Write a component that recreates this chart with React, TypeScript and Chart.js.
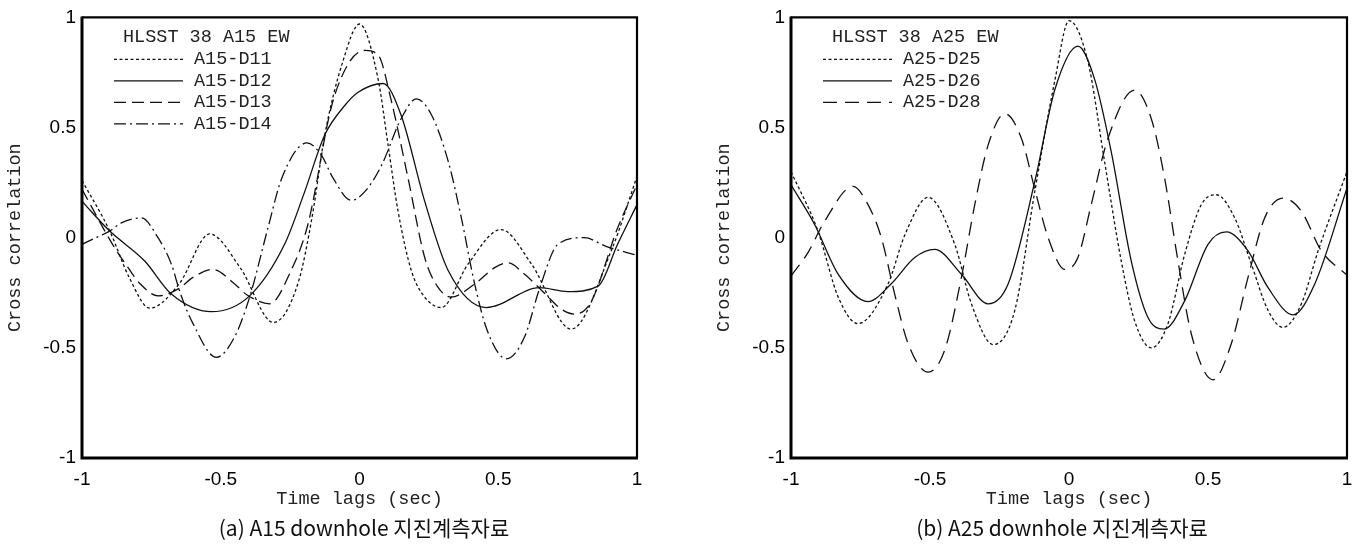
import React, { useEffect, useRef } from "react";
import { Chart, registerables } from "chart.js";

Chart.register(...registerables);

// ---------- data ----------
const xTickValues = [-1, -0.5, 0, 0.5, 1];
const xTickLabels = ["-1", "-0.5", "0", "0.5", "1"];
const yTickValues = [-1, -0.5, 0, 0.5, 1];
const yTickLabels = ["-1", "-0.5", "0", "0.5", "1"];

const titleA = "HLSST 38 A15 EW";
const titleB = "HLSST 38 A25 EW";
const xAxisTitle = "Time lags (sec)";
const yAxisTitle = "Cross correlation";
const captionA = "(a) A15 downhole 지진계측자료";
const captionB = "(b) A25 downhole 지진계측자료";

// A15 panel
const d11T = [-1, -0.9, -0.83, -0.756, -0.65, -0.54, -0.43, -0.31, -0.22, -0.17, -0.125, -0.06, 0, 0.067, 0.103, 0.139, 0.187, 0.235, 0.295, 0.391, 0.51, 0.62, 0.763, 0.907, 1];
const d11V = [0.26, 0.03, -0.18, -0.32, -0.21, 0.017, -0.136, -0.385, -0.2, 0.1, 0.467, 0.8, 0.97, 0.72, 0.42, 0.12, -0.15, -0.27, -0.317, -0.12, 0.037, -0.12, -0.415, -0.06, 0.278];

const d12T = [-1, -0.9, -0.774, -0.678, -0.534, -0.396, -0.27, -0.2, -0.125, -0.053, -0.005, 0.085, 0.15, 0.235, 0.32, 0.457, 0.649, 0.75, 0.86, 0.93, 1];
const d12V = [0.165, 0.03, -0.106, -0.256, -0.336, -0.264, -0.03, 0.2, 0.467, 0.6, 0.66, 0.7, 0.556, 0.165, -0.15, -0.317, -0.227, -0.245, -0.22, -0.03, 0.15];

const d13T = [-1, -0.89, -0.834, -0.79, -0.726, -0.65, -0.6, -0.528, -0.45, -0.405, -0.324, -0.247, -0.186, -0.1, -0.035, 0.02, 0.067, 0.113, 0.175, 0.235, 0.28, 0.33, 0.415, 0.487, 0.535, 0.595, 0.665, 0.727, 0.775, 0.835, 0.93, 1];
const d13V = [0.22, -0.03, -0.136, -0.21, -0.264, -0.23, -0.18, -0.144, -0.21, -0.26, -0.3, -0.15, 0.06, 0.6, 0.8, 0.85, 0.83, 0.63, 0.27, -0.09, -0.22, -0.27, -0.21, -0.136, -0.114, -0.166, -0.25, -0.324, -0.347, -0.29, 0.044, 0.24];

const d14T = [-1, -0.95, -0.9, -0.858, -0.786, -0.726, -0.678, -0.645, -0.6, -0.516, -0.45, -0.396, -0.33, -0.28, -0.19, -0.138, -0.095, -0.03, 0.02, 0.08, 0.15, 0.205, 0.26, 0.32, 0.367, 0.415, 0.46, 0.529, 0.595, 0.649, 0.715, 0.81, 0.89, 1];
const d14V = [-0.03, 0.0, 0.03, 0.067, 0.09, 0.0, -0.12, -0.255, -0.39, -0.543, -0.45, -0.27, 0.044, 0.27, 0.43, 0.376, 0.27, 0.17, 0.21, 0.33, 0.54, 0.63, 0.556, 0.345, 0.09, -0.21, -0.42, -0.55, -0.45, -0.23, -0.03, 0.0, -0.04, -0.08];

// A25 panel
const d25T = [-1, -0.903, -0.83, -0.759, -0.651, -0.59, -0.507, -0.411, -0.351, -0.273, -0.195, -0.123, -0.05, 0, 0.068, 0.128, 0.188, 0.236, 0.296, 0.356, 0.416, 0.476, 0.53, 0.596, 0.656, 0.716, 0.77, 0.836, 0.896, 1];
const d25V = [0.3, 0.03, -0.27, -0.39, -0.21, 0.014, 0.183, -0.03, -0.3, -0.485, -0.33, 0.21, 0.72, 0.985, 0.8, 0.345, -0.106, -0.377, -0.5, -0.39, -0.076, 0.15, 0.195, 0.09, -0.12, -0.33, -0.407, -0.3, -0.06, 0.3];

const d26T = [-1, -0.915, -0.83, -0.723, -0.64, -0.555, -0.483, -0.387, -0.291, -0.219, -0.123, -0.05, 0.032, 0.092, 0.152, 0.224, 0.284, 0.342, 0.416, 0.5, 0.566, 0.644, 0.716, 0.806, 0.884, 1];
const d26V = [0.24, 0.06, -0.166, -0.29, -0.21, -0.09, -0.053, -0.166, -0.3, -0.21, 0.255, 0.676, 0.87, 0.72, 0.39, -0.106, -0.362, -0.415, -0.287, -0.03, 0.026, -0.06, -0.227, -0.35, -0.21, 0.225];

const d28T = [-1, -0.94, -0.879, -0.777, -0.723, -0.675, -0.627, -0.579, -0.507, -0.447, -0.387, -0.339, -0.291, -0.231, -0.171, -0.123, -0.075, -0.015, 0.032, 0.08, 0.14, 0.236, 0.296, 0.344, 0.392, 0.44, 0.518, 0.584, 0.644, 0.704, 0.77, 0.836, 0.908, 1];
const d28V = [-0.174, -0.07, 0.075, 0.233, 0.15, 0.0, -0.256, -0.48, -0.61, -0.51, -0.18, 0.15, 0.42, 0.563, 0.45, 0.22, 0.0, -0.144, -0.09, 0.15, 0.45, 0.67, 0.54, 0.27, -0.106, -0.437, -0.645, -0.48, -0.18, 0.09, 0.18, 0.12, -0.06, -0.17];

// ---------- styles ----------
const INK = "#111";
const MONO = "'Liberation Mono', monospace";
const SANS = "'Liberation Sans', Arial, sans-serif";
const DASH_SHORT = [3, 2.5];
const DASH_LONG = [12, 6];
const DASH_DOT = [12, 4, 2, 4];

const zip = (t: number[], v: number[]) => t.map((x, i) => ({ x, y: v[i] }));

function lookup(values: number[], labels: string[], v: number) {
  const i = values.findIndex((a) => Math.abs(a - v) < 1e-6);
  return i >= 0 ? labels[i] : "";
}

const frameAndLegend = {
  id: "frameAndLegend",
  afterDatasetsDraw(chart: any, _args: any, opts: any) {
    const { ctx, chartArea: a } = chart;
    ctx.save();
    // frame
    ctx.strokeStyle = "#000";
    ctx.setLineDash([]);
    ctx.lineWidth = 2.2;
    ctx.beginPath();
    ctx.moveTo(a.left, a.top);
    ctx.lineTo(a.right, a.top);
    ctx.lineTo(a.right, a.bottom);
    ctx.stroke();
    ctx.lineWidth = 3;
    ctx.beginPath();
    ctx.moveTo(a.left, a.top - 1);
    ctx.lineTo(a.left, a.bottom);
    ctx.lineTo(a.right + 1, a.bottom);
    ctx.stroke();
    // legend
    ctx.fillStyle = "#222";
    ctx.font = `18.5px ${MONO}`;
    ctx.textBaseline = "middle";
    ctx.textAlign = "left";
    ctx.fillText(opts.title, a.left + 41, a.top + 20);
    chart.data.datasets.forEach((ds: any, i: number) => {
      const y = a.top + 42 + i * 21.5;
      ctx.strokeStyle = INK;
      ctx.lineWidth = 1.3;
      ctx.setLineDash(ds.borderDash || []);
      ctx.beginPath();
      ctx.moveTo(a.left + 32, y);
      ctx.lineTo(a.left + 101, y);
      ctx.stroke();
      ctx.setLineDash([]);
      ctx.fillText(ds.label, a.left + 112, y);
    });
    ctx.restore();
  },
};

function makeConfig(datasets: any[], legendTitle: string, rightPad: number) {
  return {
    type: "line",
    data: { datasets },
    plugins: [frameAndLegend],
    options: {
      animation: false,
      responsive: false,
      maintainAspectRatio: false,
      layout: { padding: { top: 15, right: rightPad, left: 0, bottom: 0 } },
      elements: {
        point: { radius: 0 },
        line: { tension: 0.4, cubicInterpolationMode: "monotone", borderWidth: 1.3, borderColor: INK, fill: false },
      },
      plugins: {
        legend: { display: false },
        tooltip: { enabled: false },
        frameAndLegend: { title: legendTitle },
      },
      scales: {
        x: {
          type: "linear",
          min: -1,
          max: 1,
          grid: { display: false, drawTicks: false },
          border: { display: false },
          ticks: {
            stepSize: 0.5,
            padding: 10,
            color: "#000",
            font: { family: SANS, size: 19 },
            maxRotation: 0,
            autoSkip: false,
            callback: (v: number) => lookup(xTickValues, xTickLabels, v),
          },
          title: {
            display: true,
            text: xAxisTitle,
            color: "#222",
            font: { family: MONO, size: 18.5 },
            padding: { top: 0, bottom: 39 },
          },
          afterFit: (s: any) => {
            s.height = 91;
          },
        },
        y: {
          type: "linear",
          min: -1,
          max: 1,
          grid: { display: false, drawTicks: false },
          border: { display: false },
          ticks: {
            stepSize: 0.5,
            padding: 6,
            color: "#000",
            font: { family: SANS, size: 19 },
            callback: (v: number) => lookup(yTickValues, yTickLabels, v),
          },
          title: {
            display: true,
            text: yAxisTitle,
            color: "#222",
            font: { family: MONO, size: 18.5 },
            padding: { top: 4, bottom: 0 },
          },
          afterFit: (s: any) => {
            s.width = 82;
          },
        },
      },
    },
  };
}

function Panel(props: { left: number; width: number; rightPad: number; datasets: any[]; legendTitle: string }) {
  const ref = useRef<HTMLCanvasElement | null>(null);
  useEffect(() => {
    if (!ref.current) return;
    const chart = new Chart(ref.current, makeConfig(props.datasets, props.legendTitle, props.rightPad) as any);
    return () => chart.destroy();
  }, []);
  return (
    <canvas
      ref={ref}
      width={props.width}
      height={549}
      style={{ position: "absolute", left: props.left, top: 0, width: props.width, height: 549 }}
    />
  );
}

const datasetsA = [
  { label: "A15-D11", data: zip(d11T, d11V), borderDash: DASH_SHORT },
  { label: "A15-D12", data: zip(d12T, d12V), borderDash: [] },
  { label: "A15-D13", data: zip(d13T, d13V), borderDash: DASH_LONG },
  { label: "A15-D14", data: zip(d14T, d14V), borderDash: DASH_DOT },
];

const datasetsB = [
  { label: "A25-D25", data: zip(d25T, d25V), borderDash: DASH_SHORT },
  { label: "A25-D26", data: zip(d26T, d26V), borderDash: [] },
  { label: "A25-D28", data: zip(d28T, d28V), borderDash: [14, 8] },
];

const captionStyle: React.CSSProperties = {
  position: "absolute",
  top: 514,
  transform: "translateX(-50%)",
  whiteSpace: "nowrap",
  fontFamily: "'Noto Sans CJK KR', sans-serif",
  fontSize: 21,
  lineHeight: "26px",
  color: "#111",
};

export default function App() {
  return (
    <div style={{ position: "fixed", left: 0, top: 0, width: 1365, height: 549, background: "#fff", overflow: "hidden" }}>
      <Panel left={0} width={682} rightPad={45} datasets={datasetsA} legendTitle={titleA} />
      <Panel left={709} width={656} rightPad={18} datasets={datasetsB} legendTitle={titleB} />
      <div style={{ ...captionStyle, left: 364 }}>{captionA}</div>
      <div style={{ ...captionStyle, left: 1062 }}>{captionB}</div>
    </div>
  );
}
